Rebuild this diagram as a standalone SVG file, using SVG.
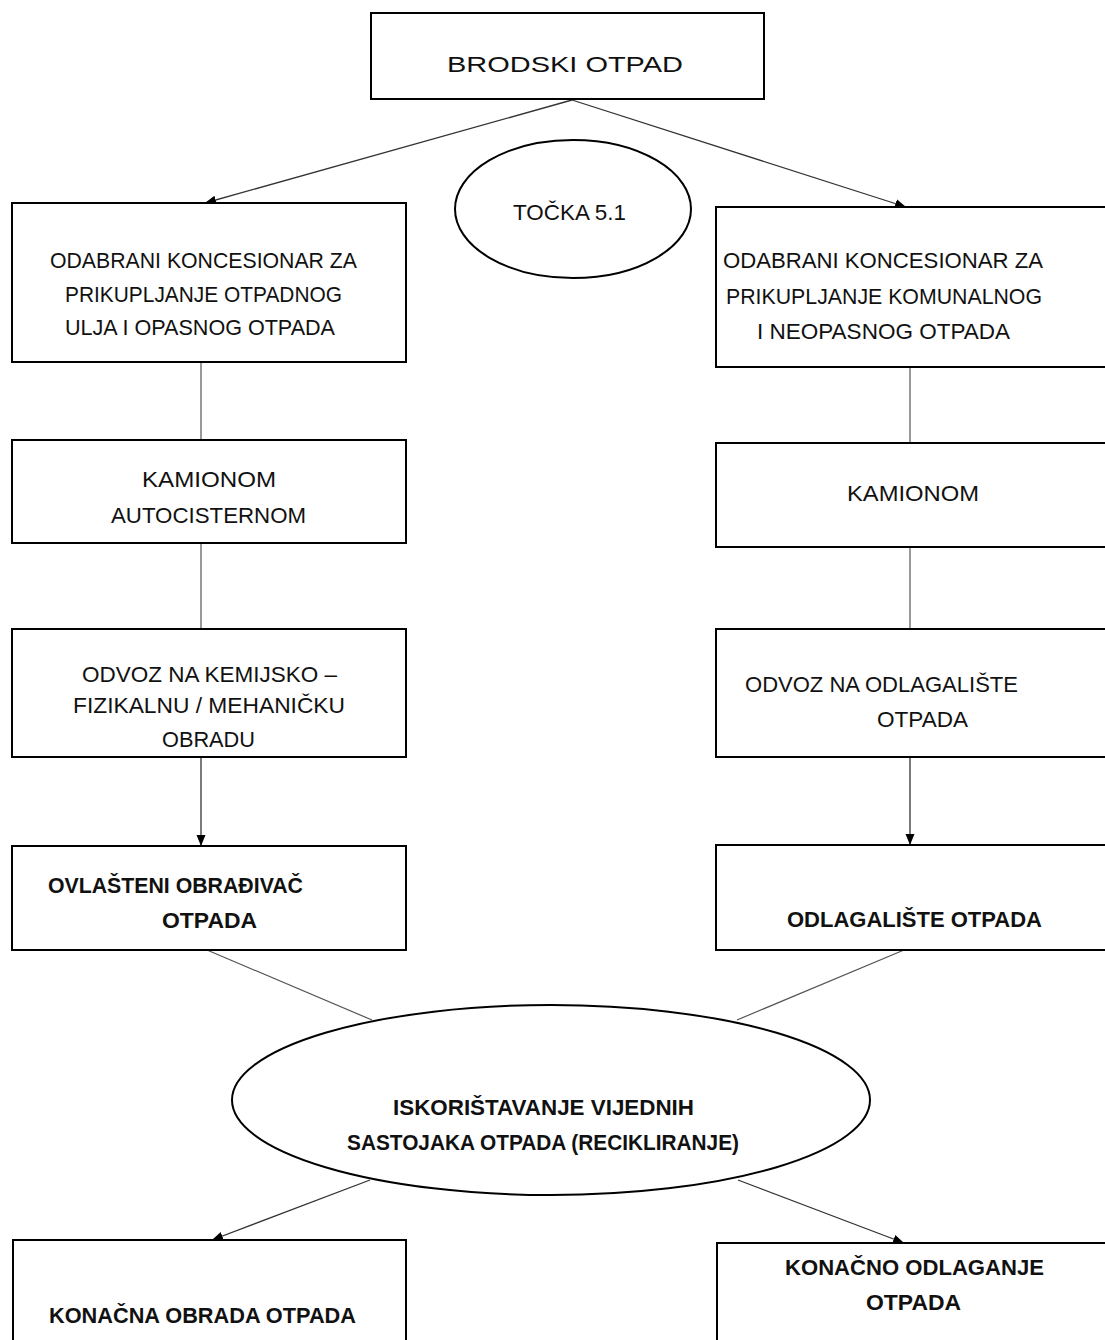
<svg xmlns="http://www.w3.org/2000/svg" width="1105" height="1340" viewBox="0 0 1105 1340">
<style>
.box{fill:#fff;stroke:#000;stroke-width:2}
.ell{fill:#fff;stroke:#000;stroke-width:2}
.t{font-family:"Liberation Sans",Arial,sans-serif;font-size:22px;fill:#111}
.b{font-weight:bold}
.c{stroke:#555;stroke-width:1.2;fill:none}
.a{stroke:#333;stroke-width:1.3;fill:none;marker-end:url(#ah)}
</style>
<defs>
<marker id="ah" markerUnits="userSpaceOnUse" markerWidth="12" markerHeight="12" viewBox="0 0 12 12" refX="11" refY="6" orient="auto">
<path d="M0,1.5 L11,6 L0,10.5 Z" fill="#000"/>
</marker>
</defs>
<rect width="1105" height="1340" fill="#fff"/>

<g id="connectors">
<line class="a" x1="572" y1="100" x2="205" y2="203"/>
<line class="a" x1="572" y1="100" x2="906" y2="207"/>
<line class="c" x1="201" y1="362" x2="201" y2="440"/>
<line class="c" x1="910" y1="367" x2="910" y2="443"/>
<line class="c" x1="201" y1="543" x2="201" y2="629"/>
<line class="c" x1="910" y1="547" x2="910" y2="629"/>
<line class="a" x1="201" y1="757" x2="201" y2="846"/>
<line class="a" x1="910" y1="757" x2="910" y2="845"/>
<line class="c" x1="207" y1="950" x2="372" y2="1020"/>
<line class="c" x1="904" y1="950" x2="737" y2="1020"/>
<line class="a" x1="370" y1="1180" x2="212" y2="1240"/>
<line class="a" x1="738" y1="1180" x2="904" y2="1243"/>
</g>

<g id="brodski-otpad">
<rect class="box" x="371" y="13" width="393" height="86"/>
<text class="t" x="447" y="72" font-size="27" textLength="236" lengthAdjust="spacingAndGlyphs">BRODSKI OTPAD</text>
</g>

<g id="tocka">
<ellipse class="ell" cx="573" cy="209" rx="118" ry="69"/>
<text class="t" x="513" y="220" font-size="23" textLength="113" lengthAdjust="spacingAndGlyphs">TOČKA 5.1</text>
</g>

<g id="koncesionar-opasni">
<rect class="box" x="12" y="203" width="394" height="159"/>
<text class="t" x="50" y="268" textLength="307" lengthAdjust="spacingAndGlyphs">ODABRANI KONCESIONAR ZA</text>
<text class="t" x="65" y="302" textLength="277" lengthAdjust="spacingAndGlyphs">PRIKUPLJANJE OTPADNOG</text>
<text class="t" x="65" y="335" textLength="270" lengthAdjust="spacingAndGlyphs">ULJA I OPASNOG OTPADA</text>
</g>

<g id="koncesionar-komunalni">
<rect class="box" x="716" y="207" width="400" height="160"/>
<text class="t" x="723" y="268" textLength="320" lengthAdjust="spacingAndGlyphs">ODABRANI KONCESIONAR ZA</text>
<text class="t" x="726" y="304" textLength="316" lengthAdjust="spacingAndGlyphs">PRIKUPLJANJE KOMUNALNOG</text>
<text class="t" x="757" y="339" textLength="253" lengthAdjust="spacingAndGlyphs">I NEOPASNOG OTPADA</text>
</g>

<g id="kamionom-autocisternom">
<rect class="box" x="12" y="440" width="394" height="103"/>
<text class="t" x="142" y="487" textLength="134" lengthAdjust="spacingAndGlyphs">KAMIONOM</text>
<text class="t" x="111" y="523" textLength="195" lengthAdjust="spacingAndGlyphs">AUTOCISTERNOM</text>
</g>

<g id="kamionom">
<rect class="box" x="716" y="443" width="400" height="104"/>
<text class="t" x="847" y="501" textLength="132" lengthAdjust="spacingAndGlyphs">KAMIONOM</text>
</g>

<g id="odvoz-obrada">
<rect class="box" x="12" y="629" width="394" height="128"/>
<text class="t" x="82" y="682" textLength="255" lengthAdjust="spacingAndGlyphs">ODVOZ NA KEMIJSKO –</text>
<text class="t" x="73" y="713" textLength="272" lengthAdjust="spacingAndGlyphs">FIZIKALNU / MEHANIČKU</text>
<text class="t" x="162" y="747" textLength="93" lengthAdjust="spacingAndGlyphs">OBRADU</text>
</g>

<g id="odvoz-odlagaliste">
<rect class="box" x="716" y="629" width="400" height="128"/>
<text class="t" x="745" y="692" textLength="273" lengthAdjust="spacingAndGlyphs">ODVOZ NA ODLAGALIŠTE</text>
<text class="t" x="877" y="727" textLength="91" lengthAdjust="spacingAndGlyphs">OTPADA</text>
</g>

<g id="ovlasteni-obradivac">
<rect class="box" x="12" y="846" width="394" height="104"/>
<text class="t b" x="48" y="893" textLength="255" lengthAdjust="spacingAndGlyphs">OVLAŠTENI OBRAĐIVAČ</text>
<text class="t b" x="162" y="928" textLength="95" lengthAdjust="spacingAndGlyphs">OTPADA</text>
</g>

<g id="odlagaliste">
<rect class="box" x="716" y="845" width="400" height="105"/>
<text class="t b" x="787" y="927" textLength="255" lengthAdjust="spacingAndGlyphs">ODLAGALIŠTE OTPADA</text>
</g>

<g id="recikliranje">
<ellipse class="ell" cx="551" cy="1100" rx="319" ry="95"/>
<text class="t b" x="393" y="1115" textLength="301" lengthAdjust="spacingAndGlyphs">ISKORIŠTAVANJE VIJEDNIH</text>
<text class="t b" x="347" y="1150" textLength="392" lengthAdjust="spacingAndGlyphs">SASTOJAKA OTPADA (RECIKLIRANJE)</text>
</g>

<g id="konacna-obrada">
<rect class="box" x="13" y="1240" width="393" height="120"/>
<text class="t b" x="49" y="1323" textLength="307" lengthAdjust="spacingAndGlyphs">KONAČNA OBRADA OTPADA</text>
</g>

<g id="konacno-odlaganje">
<rect class="box" x="717" y="1243" width="400" height="120"/>
<text class="t b" x="785" y="1275" textLength="259" lengthAdjust="spacingAndGlyphs">KONAČNO ODLAGANJE</text>
<text class="t b" x="866" y="1310" textLength="95" lengthAdjust="spacingAndGlyphs">OTPADA</text>
</g>
</svg>
